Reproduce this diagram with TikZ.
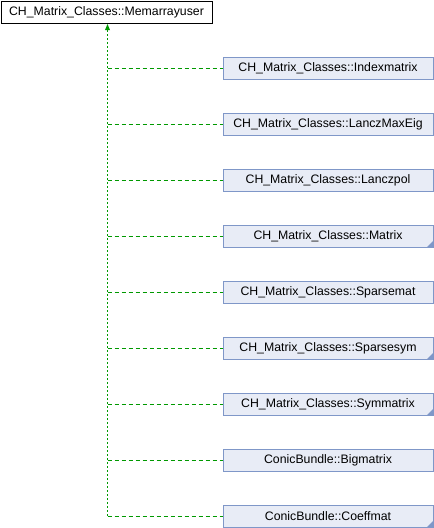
\documentclass[tikz,border=0pt]{standalone}
\usepackage{fontspec}
\setmainfont{Liberation Sans}
\usetikzlibrary{arrows.meta}
\definecolor{boxfill}{HTML}{E8ECF6}
\definecolor{boxline}{HTML}{7F97C8}
\definecolor{lnk}{HTML}{009900}
\tikzset{
  x=1pt,y=-1pt,
  base/.style={draw=black,fill=white,line width=1pt,minimum width=211pt,minimum height=22pt,inner sep=0pt,anchor=north west,font=\fontsize{12.3}{14}\selectfont},
  child/.style={draw=boxline,fill=boxfill,line width=1pt,minimum width=210pt,minimum height=22pt,inner sep=0pt,anchor=north west,font=\fontsize{12.3}{14}\selectfont},
  hline/.style={draw=lnk,line width=1pt,dash pattern=on 4pt off 3pt},
  vline/.style={draw=lnk,line width=1pt,dash pattern=on 2pt off 2pt},
  corner/.style={fill=boxline,draw=none},
}
\begin{document}
\begin{tikzpicture}
\useasboundingbox (0,0) rectangle (434,528);
\node[base] (top) at (0.5,0.5) {CH\_Matrix\_Classes::Memarrayuser};
\foreach \i/\t in {0/CH\_Matrix\_Classes::Indexmatrix,1/CH\_Matrix\_Classes::LanczMaxEig,2/CH\_Matrix\_Classes::Lanczpol,3/CH\_Matrix\_Classes::Matrix,4/CH\_Matrix\_Classes::Sparsemat,5/CH\_Matrix\_Classes::Sparsesym,6/CH\_Matrix\_Classes::Symmatrix,7/ConicBundle::Bigmatrix,8/ConicBundle::Coeffmat}{
  \node[child] (c\i) at (222.5,56.5+56*\i) {\t};
}
\foreach \i in {3,5,6,8}{
  \fill[corner] ([xshift=-0.5pt,yshift=0.5pt]c\i.south east) -- ++(0,-6) -- ++(-6,6) -- cycle;
}
\coordinate (j) at (107.5,67.5+56*8);
\draw[vline] (j) -- ([yshift=-6pt]top.south -| j);
\fill[lnk] (top.south -| j) ++(0,0.5) -- ++(-2.5,6) -- ++(5,0) -- cycle;
\foreach \i in {0,...,8}{
  \draw[hline] (c\i.west -| j) -- (c\i.west);
}
\end{tikzpicture}
\end{document}
